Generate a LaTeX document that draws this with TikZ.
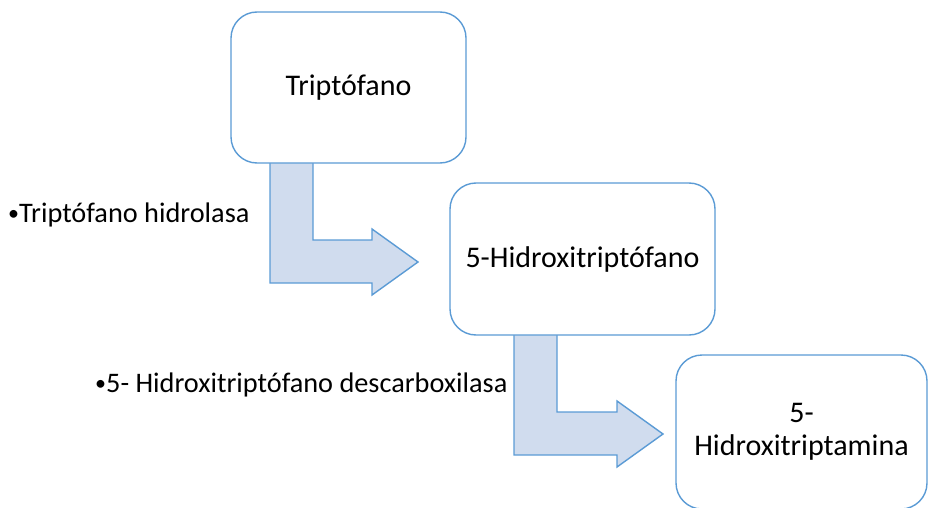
\documentclass[tikz,border=0pt]{standalone}
\usepackage{fontspec}
\setmainfont{Carlito}
\newlength{\du}
\setlength{\du}{1pt}
\definecolor{boxline}{RGB}{91,155,213}
\definecolor{arrowfill}{RGB}{208,220,238}
\newcommand{\smallbullet}{\raisebox{2.5\du}{\fontsize{22}{22}\selectfont•}}
\tikzset{
  stepbox/.style={draw=boxline, line width=1.4\du, fill=white, rounded corners=26\du,
    align=center, font=\fontsize{30}{33}\selectfont},
  enzyme/.style={anchor=west, inner sep=0pt, font=\fontsize{28.3}{33}\selectfont},
  bentarrow/.style={draw=boxline, line width=1.4\du, fill=arrowfill, line join=miter}
}
\begin{document}
\begin{tikzpicture}
\pgftransformxscale{1.000000}
\pgftransformyscale{-1.000000}
\useasboundingbox (0\du,0\du) rectangle (928\du,508\du);
\clip (0\du,0\du) rectangle (928\du,508\du);
% bent arrows
\draw[bentarrow] (270\du,160\du)--(313\du,160\du)--(313\du,240\du)--(372\du,240\du)--(372\du,229\du)
  --(418\du,262\du)--(372\du,295\du)--(372\du,283\du)--(270\du,283\du)--cycle;
\draw[bentarrow] (514\du,332\du)--(557\du,332\du)--(557\du,412\du)--(617\du,412\du)--(617\du,401\du)
  --(663\du,434\du)--(617\du,467\du)--(617\du,455\du)--(514\du,455\du)--cycle;
% boxes
\node[stepbox, minimum width=235\du, minimum height=151\du] (trp) at (348.5\du,87.5\du) {Triptófano};
\node[stepbox, minimum width=265\du, minimum height=152\du] (htp) at (582.5\du,259\du) {5-Hidroxitriptófano};
\node[stepbox, minimum width=251\du, minimum height=154\du] (ht) at (801.5\du,432\du) {5-\\Hidroxitriptamina};
% enzymes
\node[enzyme] (hidrolasa) at (8\du,215\du) {\smallbullet Triptófano hidrolasa};
\node[enzyme] (descarb) at (95\du,385\du) {\smallbullet 5- Hidroxitriptófano descarboxilasa};
\end{tikzpicture}
\end{document}
